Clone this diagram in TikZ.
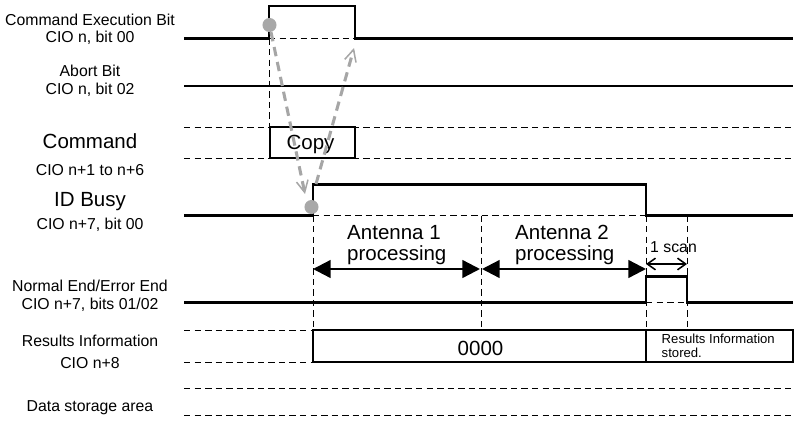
\documentclass[tikz,border=0pt]{standalone}
\usepackage{fontspec}
\setmainfont{Liberation Sans}
\usepackage{tikz}
\usetikzlibrary{arrows.meta}
\definecolor{edgegray}{RGB}{168,168,168}
\definecolor{copygray}{RGB}{166,166,166}
\newcommand{\txtsmall}{\fontsize{13.5}{14.6}\selectfont}
\newcommand{\txtbig}{\fontsize{17.5}{17.9}\selectfont}
\newcommand{\txttiny}{\fontsize{11.2}{12.2}\selectfont}
\tikzstyle{wave} = [line width=2.2pt, line join=miter]
\tikzstyle{guide} = [line width=0.8pt, dash pattern=on 5.5pt off 3.5pt]
\tikzstyle{databox} = [line width=2.2pt]
\tikzstyle{signame} = [font=\txtsmall, align=center, inner sep=0pt]
\tikzstyle{bigname} = [font=\txtbig, inner sep=0pt]
\tikzstyle{edgedot} = [circle, fill=edgegray, inner sep=0pt, minimum size=12pt]
\tikzstyle{copyarrow} = [draw=copygray, line width=2.6pt, dash pattern=on 8pt off 5pt, -{Straight Barb[length=10pt,width=10pt,line width=1.3pt]}]
\tikzstyle{procarrow} = [line width=2pt, {Triangle[length=15pt,width=15pt]}-{Triangle[length=15pt,width=15pt]}]
\tikzstyle{scanarrow} = [line width=1.3pt, {Straight Barb[length=7pt,width=10pt]}-{Straight Barb[length=7pt,width=10pt]}]

\begin{document}
\begin{tikzpicture}[x=0.03cm, y=-0.03cm]
    \useasboundingbox (0,0) rectangle (795,421);
    % Signal names
    \node [signame, anchor=north] (execname) at (90,13.5) {Command Execution Bit\\CIO n, bit 00};
    \node [signame, anchor=north] (abortname) at (90,65.2) {Abort Bit\\CIO n, bit 02};
    \node [bigname, anchor=base] (cmdname) at (90,148) {Command};
    \node [signame, anchor=base] (cmdaddr) at (90,175) {CIO n+1 to n+6};
    \node [bigname, anchor=base] (busyname) at (90,206) {ID Busy};
    \node [signame, anchor=base] (busyaddr) at (90,229) {CIO n+7, bit 00};
    \node [signame, anchor=north] (endname) at (90,280.2) {Normal End/Error End\\CIO n+7, bits 01/02};
    \node [signame, anchor=base] (resname) at (90,346.5) {Results Information};
    \node [signame, anchor=base] (resaddr) at (90,368.5) {CIO n+8};
    \node [signame, anchor=base] (dataname) at (90,411) {Data storage area};

    % Guide lines
    \draw [guide] (269,38.5) -- (355,38.5);
    \draw [guide] (269,38.5) -- (269,127);
    \draw [guide] (184,127) -- (793,127);
    \draw [guide] (184,158) -- (793,158);
    \draw [guide] (313,215.5) -- (646,215.5);
    \foreach \t in {313,481,646,687}
        \draw [guide] (\t,215.5) -- (\t,330);
    \draw [guide] (646,302.5) -- (687,302.5);
    \draw [guide] (184,330) -- (313,330);
    \draw [guide] (184,362) -- (313,362);
    \draw [guide] (184,388) -- (793,388);
    \draw [guide] (184,415) -- (793,415);

    % Signals
    \draw [wave] (184,38.5) -- (269,38.5) -- (269,6) -- (355,6) -- (355,38.5) -- (793,38.5);
    \draw [wave] (184,86) -- (793,86);
    \draw [wave] (184,215.5) -- (313,215.5) -- (313,184.5) -- (646,184.5) -- (646,215.5) -- (793,215.5);
    \draw [wave] (184,302.5) -- (646,302.5) -- (646,276.5) -- (687,276.5) -- (687,302.5) -- (793,302.5);

    % Data boxes
    \draw [databox] (270,127) rectangle (355,158);
    \draw [databox] (313,330) rectangle (646,362);
    \draw [databox] (646,330) rectangle (793,362);
    \node [bigname, anchor=base] (copy) at (310.5,149) {Copy};
    \node [bigname, anchor=base] (zeros) at (480.5,355) {0000};
    \node [font=\txttiny, align=left, anchor=north west, inner sep=0pt] (stored) at (661.5,333.8) {Results Information\\stored.};

    % Processing times
    \node [font=\txtbig, align=left, anchor=north west, inner sep=0pt] (ant1) at (347,224.8) {Antenna 1\\processing};
    \node [font=\txtbig, align=left, anchor=north west, inner sep=0pt] (ant2) at (515,224.8) {Antenna 2\\processing};
    \node [font=\txtsmall, anchor=base west, inner sep=0pt] (scan) at (650,252.7) {1 scan};
    \coordinate (a1s) at (313,269);
    \coordinate (a1e) at (480,269);
    \coordinate (a2s) at (482,269);
    \coordinate (a2e) at (646,269);
    \coordinate (s1) at (646,264);
    \coordinate (s2) at (687,264);
    \draw [procarrow] (a1s) -- (a1e);
    \draw [procarrow] (a2s) -- (a2e);
    \draw [scanarrow] (s1) -- (s2);

    % Copy handshake
    \node [edgedot] (startdot) at (269.5,25) {};
    \node [edgedot] (busydot) at (311.5,207) {};
    \coordinate (copyin) at (305,194);
    \coordinate (copyback) at (316,184);
    \coordinate (copyout) at (354,48);
    \draw [copyarrow] (startdot) -- (copyin);
    \draw [copyarrow] (copyback) -- (copyout);
\end{tikzpicture}
\end{document}
